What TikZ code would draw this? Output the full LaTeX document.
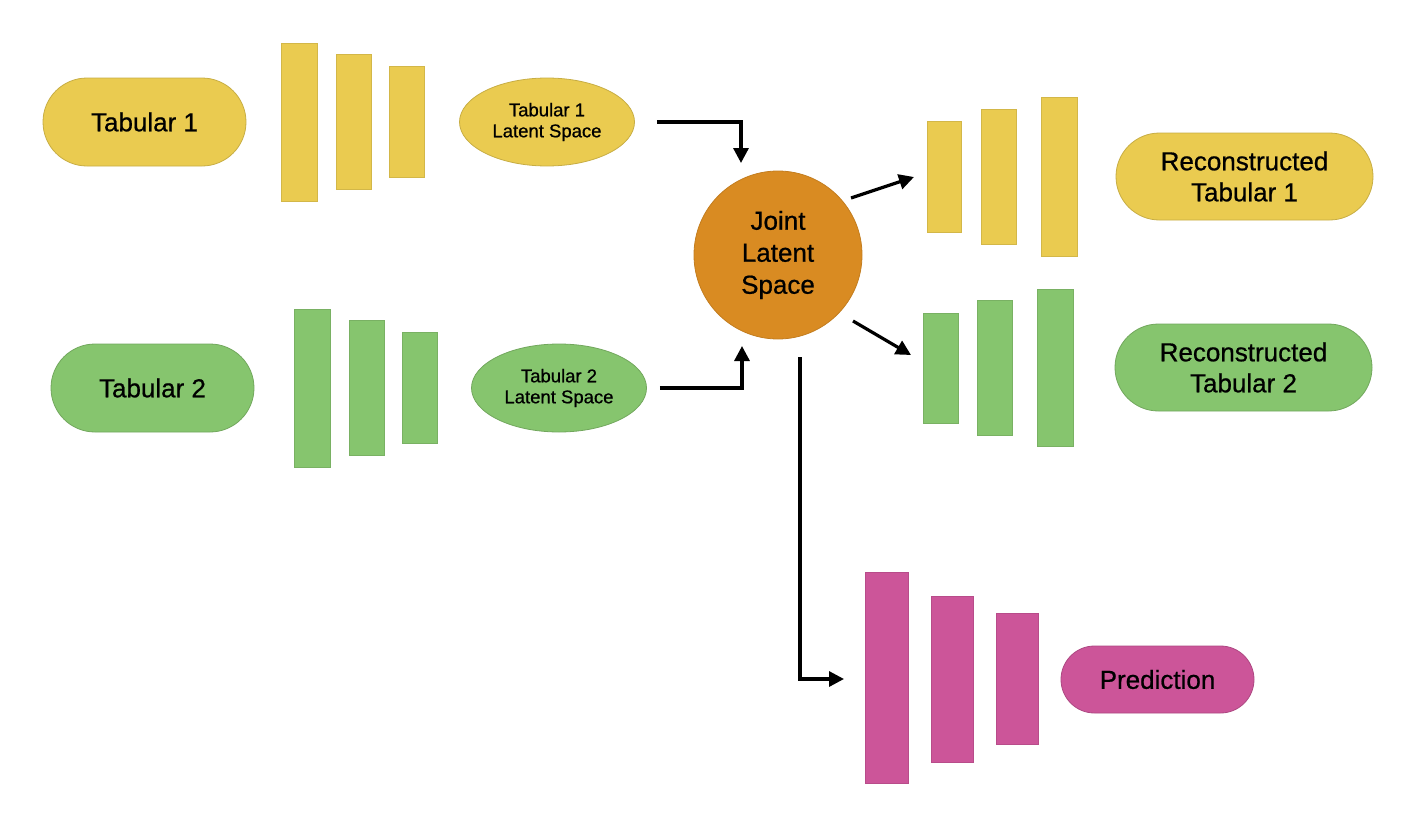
\documentclass[tikz,border=0pt]{standalone}
\usepackage{fontspec}
\setmainfont{Liberation Sans}[FakeBold=0.7]
\usetikzlibrary{shapes.misc,shapes.geometric,arrows.meta}
\definecolor{ylw}{HTML}{EACB50}
\definecolor{grn}{HTML}{86C56E}
\definecolor{org}{HTML}{D98B22}
\definecolor{pnk}{HTML}{CC5599}
\tikzset{
  pill/.style={rounded rectangle, draw=#1!85!black, line width=0.8pt, fill=#1, inner sep=0pt, align=center,
    font=\fontsize{26}{31}\selectfont},
  latent/.style={ellipse, draw=#1!85!black, line width=0.8pt, fill=#1, inner sep=0pt, minimum width=175, minimum height=88,
    align=center, font=\fontsize{18.5}{21}\selectfont},
  bar/.style={rectangle, draw=#1!90!black, line width=0.8pt, fill=#1, inner sep=0pt, anchor=north west},
  arr/.style={line width=3.2pt, -{Triangle[length=15pt,width=15pt]}},
}
\begin{document}
\begin{tikzpicture}[x=1pt,y=-1pt]
\useasboundingbox (0,0) rectangle (1417,827);
% Tabular 1 branch
\node[pill=ylw, minimum width=203, minimum height=88] (tab1) at (144.5,122) {Tabular 1};
\node[bar=ylw, minimum width=36, minimum height=158] (e1a) at (281,43) {};
\node[bar=ylw, minimum width=35, minimum height=135] (e1b) at (336,54) {};
\node[bar=ylw, minimum width=35, minimum height=111] (e1c) at (389,66) {};
\node[latent=ylw] (lat1) at (547,122) {Tabular 1\\Latent Space};
% Tabular 2 branch
\node[pill=grn, minimum width=203, minimum height=88] (tab2) at (152.5,388) {Tabular 2};
\node[bar=grn, minimum width=36, minimum height=158] (e2a) at (294,309) {};
\node[bar=grn, minimum width=35, minimum height=135] (e2b) at (349,320) {};
\node[bar=grn, minimum width=35, minimum height=111] (e2c) at (402,332) {};
\node[latent=grn] (lat2) at (559,388) {Tabular 2\\Latent Space};
% Joint
\node[circle, fill=org, draw=org!90!black, line width=0.8pt, minimum size=168, inner sep=0pt, align=center,
  font=\fontsize{26}{32}\selectfont] (joint) at (778,255) {Joint\\Latent\\Space};
% Decoder 1
\node[bar=ylw, minimum width=34, minimum height=111] (d1a) at (927,121) {};
\node[bar=ylw, minimum width=35, minimum height=135] (d1b) at (981,109) {};
\node[bar=ylw, minimum width=36, minimum height=159] (d1c) at (1041,97) {};
\node[pill=ylw, minimum width=257, minimum height=87] (rec1) at (1244.5,176.5) {Reconstructed\\Tabular 1};
% Decoder 2
\node[bar=grn, minimum width=35, minimum height=110] (d2a) at (923,313) {};
\node[bar=grn, minimum width=35, minimum height=135] (d2b) at (977,300) {};
\node[bar=grn, minimum width=36, minimum height=157] (d2c) at (1037,289) {};
\node[pill=grn, minimum width=257, minimum height=87] (rec2) at (1243.5,367.5) {Reconstructed\\Tabular 2};
% Predictor
\node[bar=pnk, minimum width=43, minimum height=211] (p1) at (865,572) {};
\node[bar=pnk, minimum width=42, minimum height=166] (p2) at (931,596) {};
\node[bar=pnk, minimum width=42, minimum height=131] (p3) at (996,613) {};
\node[pill=pnk, minimum width=193, minimum height=67] (pred) at (1157.5,679.5) {Prediction};
% connector ends
\coordinate (in1) at (741,163);
\coordinate (in2) at (742,346);
\coordinate (o1s) at (851,198);
\coordinate (o1e) at (914,177);
\coordinate (o2s) at (853,321);
\coordinate (o2e) at (911,355);
\coordinate (o3s) at (800,357);
\coordinate (o3e) at (844,679);
% connectors
\draw[arr] ([xshift=22]lat1.east) -| (in1);
\draw[arr] ([xshift=13]lat2.east) -| (in2);
\draw[arr] (o1s) -- (o1e);
\draw[arr] (o2s) -- (o2e);
\draw[arr] (o3s) |- (o3e);
\end{tikzpicture}
\end{document}
